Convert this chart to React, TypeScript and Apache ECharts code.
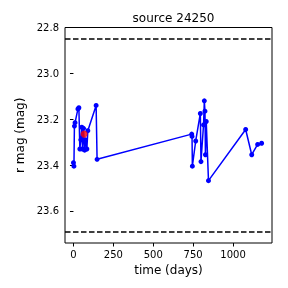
import React, { useEffect, useRef } from "react";
import * as echarts from "echarts";

const days = [0, 3, 6, 10, 28, 34, 40, 46, 52, 57, 63, 70, 76, 84, 90, 142, 148,
  741, 743, 745, 766, 795, 799, 815, 820, 824, 827, 832, 846,
  1079, 1117, 1154, 1179];
const mags = [23.39, 23.405, 23.23, 23.215, 23.155, 23.15, 23.33, 23.29, 23.235, 23.33, 23.24, 23.335, 23.29, 23.33, 23.25, 23.14, 23.375,
  23.265, 23.275, 23.405, 23.295, 23.175, 23.385, 23.225, 23.12, 23.165, 23.355, 23.21, 23.468,
  23.245, 23.355, 23.31, 23.305];
const highlightDay = [67];
const highlightMag = [23.265];
const limitLines = [22.846, 23.69];
const xTicks = [0, 250, 500, 750, 1000];
const yTicks = [22.8, 23.0, 23.2, 23.4, 23.6];

export default function App() {
  const ref = useRef<HTMLDivElement>(null);
  useEffect(() => {
    if (!ref.current) return;
    const chart = echarts.init(ref.current, null, { renderer: "svg" });
    const font = "DejaVu Sans";
    chart.setOption({
      animation: false,
      title: {
        text: "source 24250",
        left: 168.5,
        top: 7,
        textAlign: "center",
        textStyle: { fontFamily: font, fontSize: 12, fontWeight: "normal", color: "#000" },
      },
      grid: {
        left: 65, right: 16, top: 27.5, bottom: 45,
        show: true, borderColor: "#000", borderWidth: 1, backgroundColor: "transparent",
      },
      xAxis: {
        type: "value",
        min: -53, max: 1244,
        name: "time (days)",
        nameLocation: "middle",
        nameGap: 21,
        nameTextStyle: { fontFamily: font, fontSize: 12, color: "#000" },
        axisLine: { show: false },
        splitLine: { show: false },
        axisTick: { show: true, length: 3.5, lineStyle: { color: "#000" }, customValues: xTicks },
        axisLabel: {
          fontFamily: font, fontSize: 10, color: "#000", margin: 6, customValues: xTicks,
          formatter: (v: number) => String(Math.round(v)),
        },
      },
      yAxis: {
        type: "value",
        inverse: true,
        min: 22.8, max: 23.74,
        name: "r mag (mag)",
        nameLocation: "middle",
        nameGap: 37,
        nameRotate: 90,
        nameTextStyle: { fontFamily: font, fontSize: 12, color: "#000" },
        axisLine: { show: false },
        splitLine: { show: false },
        axisTick: { show: true, length: 3.5, lineStyle: { color: "#000" }, customValues: yTicks },
        axisLabel: {
          fontFamily: font, fontSize: 10, color: "#000", margin: 6, customValues: yTicks,
          formatter: (v: number) => v.toFixed(1),
        },
      },
      series: [
        {
          type: "line",
          data: days.map((d, i) => [d, mags[i]]),
          color: "#0000ff",
          lineStyle: { color: "#0000ff", width: 1.5 },
          symbol: "circle",
          symbolSize: 5,
          itemStyle: { color: "#0000ff" },
          z: 2,
          markLine: {
            silent: true,
            symbol: "none",
            label: { show: false },
            lineStyle: { color: "#000", type: [5.5, 2.5], width: 1.5 },
            data: limitLines.map((v) => ({ yAxis: v })),
          },
        },
        {
          type: "scatter",
          data: highlightDay.map((d, i) => [d, highlightMag[i]]),
          symbolSize: 7,
          itemStyle: { color: "#ff0000" },
          z: 3,
        },
      ],
    });
    return () => chart.dispose();
  }, []);
  return <div ref={ref} style={{ position: "fixed", left: 0, top: 0, width: 288, height: 288 }} />;
}
